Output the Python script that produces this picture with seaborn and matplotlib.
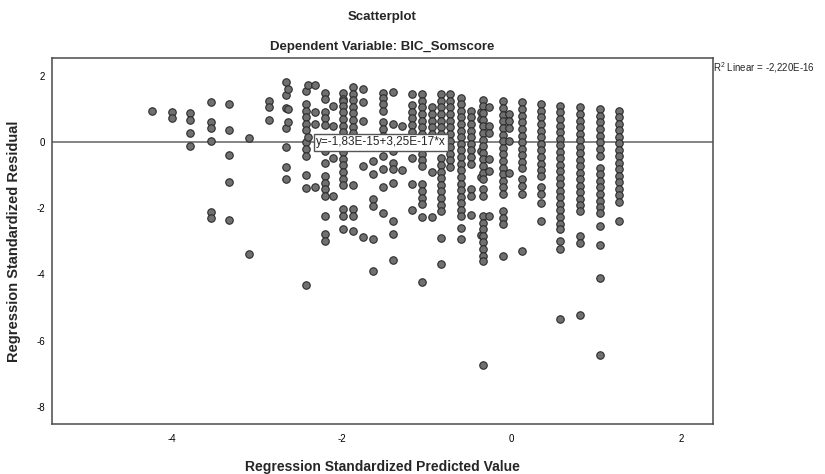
import matplotlib
matplotlib.use("Agg")
import matplotlib.pyplot as plt
import seaborn as sns
import pandas as pd

# regression standardized predicted value of each column of points
pred_cols = [-4.23, -4.00, -3.78, -3.54, -3.32, -3.09, -2.86, -2.66, -2.63, -2.42,
             -2.40, -2.31, -2.20, -2.10, -1.98, -1.87, -1.75, -1.63, -1.51, -1.40,
             -1.29, -1.17, -1.05, -0.94, -0.83, -0.72, -0.59, -0.48, -0.36, -0.34,
             -0.26, -0.10, -0.03, 0.12, 0.35, 0.57, 0.81, 1.04, 1.26]

# standardized residuals in each column
resid_cols = [
    [0.95],
    [0.90, 0.72],
    [0.87, 0.67, 0.28, -0.11],
    [1.20, 0.62, 0.42, 0.03, -2.11, -2.30],
    [1.15, 0.37, -0.40, -1.19, -2.36],
    [0.12, -3.38],
    [1.25, 1.05, 0.66],
    [1.81, 1.42, 1.02, 0.44, -0.16, -0.74, -1.12],
    [1.60, 1.00, 0.62],
    [1.54, 1.15, 0.95, 0.75, 0.55, 0.36, 0.00, -0.21, -0.41, -1.00, -1.38, -4.31],
    [1.74, 0.17],
    [1.73, 0.92, 0.55, -1.37],
    [1.50, 1.30, 0.92, 0.72, 0.53, -0.28, -0.64, -1.03, -1.23, -1.43, -1.63, -2.22, -2.79, -2.99],
    [1.10, 0.49, -0.47, -1.63],
    [1.50, 1.30, 1.25, 1.10, 0.90, 0.70, 0.50, 0.30, 0.10, -0.10, -0.30, -0.50, -0.70,
     -0.90, -1.10, -1.30, -2.03, -2.23, -2.64],
    [1.67, 1.47, 1.27, 1.07, 0.87, 0.67, 0.47, 0.27, 0.04, -1.30, -2.03, -2.23, -2.69],
    [1.60, 1.20, 0.65, -0.72, -2.88],
    [-0.57, -0.97, -1.73, -1.93, -2.94, -3.90],
    [1.50, 1.35, 1.15, 0.95, 0.60, 0.39, 0.19, -0.41, -0.80, -1.37, -2.15],
    [1.52, 0.55, -0.26, -0.62, -0.80, -1.22, -2.38, -2.77, -3.57],
    [0.49, -0.84],
    [1.45, 1.12, 0.92, 0.72, 0.52, 0.31, 0.11, -0.09, -0.49, -1.27, -2.05],
    [1.45, 1.25, 1.05, 0.85, 0.65, 0.45, 0.25, 0.05, -0.15, -0.35, -0.55, -0.72,
     -1.27, -1.47, -1.68, -1.88, -2.26, -4.22],
    [1.05, 0.85, 0.65, 0.45, 0.25, 0.05, -0.15, -0.90, -2.26],
    [1.45, 1.25, 1.05, 0.85, 0.65, 0.45, 0.25, 0.05, -0.49, -0.69, -0.89, -1.09,
     -1.29, -1.49, -1.69, -1.89, -2.09, -2.89, -3.68],
    [1.45, 1.25, 1.05, 0.85, 0.65, 0.45, 0.25, 0.05, -0.15, -0.35, -0.55, -0.75],
    [1.35, 1.15, 0.95, 0.75, 0.55, 0.35, 0.15, -0.05, -0.25, -0.45, -0.65, -0.85,
     -1.05, -1.25, -1.45, -1.65, -1.85, -2.05, -2.23, -2.59, -2.94],
    [0.95, 0.75, 0.55, 0.35, 0.15, -0.05, -0.25, -0.45, -0.67, -1.42, -1.63, -2.20],
    [0.90, 0.70, -0.26, -1.04, -2.81],
    [1.28, 1.08, 0.88, 0.68, 0.48, 0.28, 0.08, -0.12, -0.32, -0.52, -0.72, -0.92,
     -1.12, -1.42, -1.62, -2.23, -2.43, -2.63, -2.83, -3.03, -3.23, -3.43, -3.60, -6.73],
    [1.05, 0.49, 0.29, -0.52, -0.87, -2.23],
    [1.23, 1.03, 0.83, 0.63, 0.43, 0.23, 0.03, -0.17, -0.37, -0.57, -0.77, -0.97,
     -1.17, -1.37, -1.57, -2.08, -2.28, -2.48, -3.45],
    [0.85, 0.65, 0.42, 0.04, -0.94],
    [1.20, 1.00, 0.80, 0.60, 0.40, 0.20, 0.00, -0.20, -0.40, -0.60, -0.77, -1.12,
     -1.32, -1.58, -3.29],
    [1.15, 0.95, 0.75, 0.55, 0.35, 0.15, -0.05, -0.25, -0.45, -0.65, -0.85, -1.02,
     -1.37, -1.57, -1.83, -2.38],
    [1.10, 0.90, 0.70, 0.50, 0.31, 0.11, -0.09, -0.29, -0.48, -0.68, -0.88, -1.08,
     -1.27, -1.47, -1.67, -1.87, -2.06, -2.26, -2.46, -2.64, -2.99, -3.22, -5.34],
    [1.05, 0.85, 0.65, 0.46, 0.26, 0.06, -0.14, -0.34, -0.53, -0.73, -0.93, -1.12,
     -1.32, -1.52, -1.71, -1.90, -2.08, -2.84, -3.06, -5.21],
    [1.00, 0.80, 0.60, 0.40, 0.20, 0.00, -0.20, -0.41, -0.77, -0.97, -1.17, -1.37,
     -1.57, -1.77, -1.97, -2.15, -2.52, -3.11, -4.10, -6.42],
    [0.95, 0.75, 0.56, 0.36, 0.17, -0.03, -0.23, -0.42, -0.62, -0.82, -1.01, -1.21,
     -1.41, -1.60, -1.81, -2.38],
]

fit_intercept = -1.83e-15
fit_slope = 3.25e-17
fit_label = "y=-1,83E-15+3,25E-17*x"
r2_label = "R$^2$ Linear = -2,220E-16"
x_ticks = [-4, -2, 0, 2]
y_ticks = [2, 0, -2, -4, -6, -8]

rows = [(x, y) for x, ys in zip(pred_cols, resid_cols) for y in ys]
df = pd.DataFrame(rows, columns=["pred", "resid"])

sns.set_style("white")
plt.rcParams["font.family"] = ["Liberation Sans", "DejaVu Sans"]
plt.rcParams["axes.unicode_minus"] = False
plt.rcParams["mathtext.fontset"] = "custom"
plt.rcParams["mathtext.rm"] = "Liberation Sans"

fig = plt.figure(figsize=(8.25, 4.74), dpi=100)
ax = fig.add_axes([0.063, 0.1055, 0.801, 0.7725])

xmin, xmax = -5.41, 2.37
ax.plot([xmin, xmax], [fit_intercept + fit_slope * xmin, fit_intercept + fit_slope * xmax],
        color="#7a7a7a", lw=1.3, zorder=1)

sns.scatterplot(data=df, x="pred", y="resid", ax=ax, s=29, color="#707070",
                edgecolor="#2b2b2b", linewidth=0.8, zorder=3, legend=False)

ax.set_xlim(xmin, xmax)
ax.set_ylim(-8.52, 2.55)
ax.set_xticks(x_ticks)
ax.set_yticks(y_ticks)
ax.tick_params(length=0, labelsize=7, colors="black")
ax.tick_params(axis="x", pad=7)
ax.tick_params(axis="y", pad=5)
for sp in ax.spines.values():
    sp.set_color("#4a4a4a")
    sp.set_linewidth(1.1)

ax.text(-2.30, 0, fit_label, ha="left", va="center", fontsize=8.5, zorder=5,
        bbox=dict(boxstyle="square,pad=0.2", fc="white", ec="#555555", lw=1))

ax.set_xlabel("Regression Standardized Predicted Value", fontsize=10, fontweight="bold")
ax.set_ylabel("Regression Standardized Residual", fontsize=10.5, fontweight="bold")
ax.xaxis.set_label_coords(0.5, -0.098)
ax.yaxis.set_label_coords(-0.047, 0.5)

fig.text(0.8645, 0.8565, r2_label, fontsize=7, va="center", ha="left")
fig.text(0.4636, 0.964, "Scatterplot", ha="center", va="center", fontsize=9.5, fontweight="bold")
fig.text(0.4636, 0.9008, "Dependent Variable: BIC_Somscore", ha="center", va="center",
         fontsize=9.5, fontweight="bold")

fig.savefig("out.png", dpi=100)
